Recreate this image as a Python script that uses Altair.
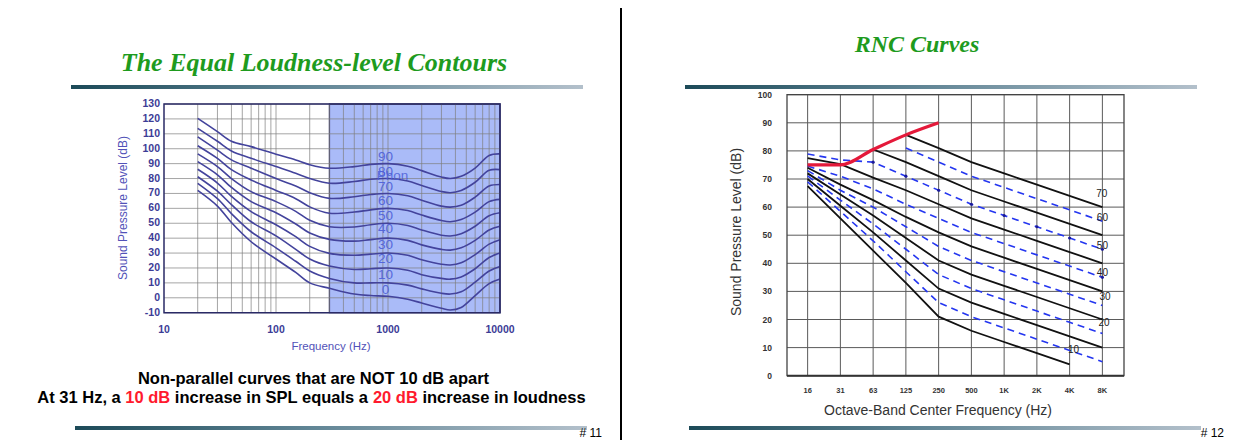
import altair as alt
import pandas as pd

# ================= LEFT SLIDE: equal loudness-level contours =================
FREQS = [20, 30, 40, 60, 100, 150, 200, 300, 500, 700, 1000, 1500, 2000, 3000, 3600, 4500, 6000, 8000, 10000]
PHON_90 = [120.4, 111.5, 105, 101.4, 96.3, 92.5, 89.3, 86.9, 88, 89.5, 90, 88.3, 85.3, 81, 80, 81.5, 87, 95.5, 96.5]
PHON_80 = [113.7, 105, 98.5, 93.6, 88, 83.5, 80, 76.8, 78, 79.5, 80, 78.3, 75.3, 71.3, 70.5, 72, 77.5, 85.5, 86]
PHON_70 = [108, 99, 92.5, 86.9, 80, 75, 70.5, 66.7, 67.8, 69.3, 70, 68.5, 65.5, 61.5, 60.8, 62, 67.5, 75, 76]
PHON_60 = [102, 93.5, 86, 79, 72, 66.5, 61, 56.7, 57.5, 59, 60, 58.5, 55.5, 51.8, 51, 52.5, 57.5, 64.5, 66]
PHON_50 = [96.5, 88, 80, 71.2, 64.5, 58, 52, 47.7, 47.5, 49, 50, 48.5, 45.5, 42, 41.5, 43, 48, 55, 57]
PHON_40 = [91.3, 82.5, 74, 64.5, 57, 49.5, 43.5, 39.2, 38, 39, 40, 38.5, 35.5, 32.5, 32, 33.5, 38.5, 45.5, 48]
PHON_30 = [86.2, 77, 68, 57.8, 49, 41, 34.5, 29.8, 28.5, 29.3, 30, 28.5, 25.5, 22.5, 22, 23.5, 29, 36, 39]
PHON_20 = [81.2, 71.5, 62.5, 51, 41.5, 32.5, 26, 21.3, 19, 19.5, 20, 18.5, 15.5, 13, 12.5, 14, 19.5, 27, 30]
PHON_10 = [76.8, 66.5, 56.5, 44.3, 33.5, 24.5, 18, 13, 10, 10, 10, 8.5, 6, 3, 2.5, 4, 10.5, 18, 21]
PHON_0 = [72, 61.5, 50.5, 37.6, 26, 17, 10, 6.4, 2.5, 1.5, 1, -1, -3.5, -7, -8.2, -6.5, 1.5, 9.5, 12.6]
PHON_LEVELS = [0, 10, 20, 30, 40, 50, 60, 70, 80, 90]
PHON_CURVES = [PHON_0, PHON_10, PHON_20, PHON_30, PHON_40, PHON_50, PHON_60, PHON_70, PHON_80, PHON_90]
PHON_LABEL_TEXT = ["0", "10", "20", "30", "40", "50", "60", "70", "80", "90"]
PHON_LABEL_Y = [5.5, 15.6, 25.9, 35.7, 46.0, 55.0, 65.1, 74.5, 84.6, 94.7]
PHON_LABEL_F = 950
PHON_WORD = "Phon"
PHON_WORD_F = 793
PHON_WORD_Y = 81.7
SHADE_FROM = 300
LEFT_GRID_F = [20, 30, 40, 50, 60, 70, 80, 90, 100, 200, 300, 400, 500, 600, 700, 800, 900,
               1000, 2000, 3000, 4000, 5000, 6000, 7000, 8000, 9000]
LEFT_Y_TICKS = [130, 120, 110, 100, 90, 80, 70, 60, 50, 40, 30, 20, 10, 0, -10]
LEFT_X_TICKS = [10, 100, 1000, 10000]
LEFT_TITLE = "The Equal Loudness-level Contours"
CAPTION_1 = "Non-parallel curves that are NOT 10 dB apart"
CAPTION_2 = ["At 31 Hz, a", "10 dB", "increase in SPL equals a", "20 dB", "increase in  loudness"]
CAPTION_2_RED = [False, True, False, True, False]

# ================= RIGHT SLIDE: RNC curves =================
OCTAVES = ["16", "31", "63", "125", "250", "500", "1K", "2K", "4K", "8K"]
RNC_10 = [67.5, 56, 44.5, 33, 21, 16, 12, 8, 4]
RNC_20 = [70, 60.5, 51, 41, 31, 26, 22, 18, 14, 10]
RNC_30 = [72, 64.5, 57, 49, 41, 36, 32, 28, 24, 20]
RNC_40 = [74, 68, 62.5, 56.5, 51, 46, 42, 38, 34, 30]
RNC_50 = [77.4, 75.3, 70.5, 66, 61, 56, 52, 48, 44, 40]
RNC_60 = [None, None, 80.5, 76, 71, 66, 62, 58, 54, 50]
RNC_70 = [None, None, None, 85.7, 81, 76, 72, 68, 64, 60]
RNC_15 = [69, 58.5, 48, 37, 26, 21, 17, 13, 9, 5]
RNC_25 = [71.1, 62.5, 54, 45, 36, 31, 27, 23, 19, 15]
RNC_35 = [73, 66, 60, 53, 46, 41, 37, 33, 29, 25]
RNC_45 = [74.6, 71, 66.5, 61, 56, 51, 47, 43, 39, 35]
RNC_55 = [78.9, 76.8, 76, 71, 66, 61, 57, 53, 49, 45]
RNC_65 = [None, None, None, 81, 76, 71, 67, 63, 59, 55]
RED_LIMIT = [75, 75, 80.5, 85.7, 90]
RNC_LABELS = ["70", "60", "50", "40", "30", "20", "10"]
RNC_LABEL_X = [8.98, 9.0, 9.0, 9.0, 9.08, 9.05, 8.12]
RNC_LABEL_Y = [64.7, 56.2, 46.3, 36.4, 28.1, 18.9, 9.1]
DOT_IDX = [2, 3, 4, 5, 6, 7, 8, 9, 9]
DOT_VAL = [76, 71, 66, 61, 57, 53, 49, 45, 35]
RIGHT_Y_TICKS = [0, 10, 20, 30, 40, 50, 60, 70, 80, 90, 100]
RIGHT_TITLE = "RNC Curves"

# ================= scales (pixel ranges inside a 1220 x 432 canvas) =================
LX = alt.Scale(type="log", domain=[10, 10000], range=[156, 492], nice=False)
LY = alt.Scale(domain=[-10, 130], range=[304.7, 96], nice=False, zero=False)
RX = alt.Scale(domain=[-0.63, 9.66], range=[779, 1116], nice=False, zero=False)
RY = alt.Scale(domain=[0, 100], range=[367.7, 86.7], nice=False, zero=False)

SANS = "Liberation Sans"
SERIF = "Liberation Serif"


def qx(field, sc):
    return alt.X(field, type="quantitative", scale=sc, axis=None)


def qy(field, sc):
    return alt.Y(field, type="quantitative", scale=sc, axis=None)


one = alt.Data(values=[{"a": 0}])
layers = []

# ---------- left chart ----------
shade = pd.DataFrame({"f0": [SHADE_FROM], "f1": [10000], "y0": [-10], "y1": [130]})
layers.append(alt.Chart(shade).mark_rect(fill="#aabbf8", stroke="#2a2a66", strokeWidth=1.3).encode(
    x=qx("f0", LX), x2="f1", y=qy("y0", LY), y2="y1"))

vgrid = pd.DataFrame({"f": LEFT_GRID_F, "y0": -10, "y1": 130})
layers.append(alt.Chart(vgrid).mark_rule(color="#7f7f7f", strokeWidth=1, opacity=0.7).encode(
    x=qx("f", LX), y=qy("y0", LY), y2="y1"))
hgrid = pd.DataFrame({"y": LEFT_Y_TICKS, "f0": 10, "f1": 10000})
layers.append(alt.Chart(hgrid).mark_rule(color="#7f7f7f", strokeWidth=1, opacity=0.7).encode(
    y=qy("y", LY), x=qx("f0", LX), x2="f1"))

curve_rows = []
for lvl, vals in zip(PHON_LEVELS, PHON_CURVES):
    for f, v in zip(FREQS, vals):
        curve_rows.append({"f": f, "spl": v, "phon": lvl})
curves = pd.DataFrame(curve_rows)
layers.append(alt.Chart(curves).mark_line(color="#43439c", strokeWidth=1.6, interpolate="catmull-rom").encode(
    x=qx("f", LX), y=qy("spl", LY), detail="phon:N"))

plabels = pd.DataFrame({"f": PHON_LABEL_F, "y": PHON_LABEL_Y, "t": PHON_LABEL_TEXT})
layers.append(alt.Chart(plabels).mark_text(font=SANS, fontSize=13.5, color="#4d5fd9", align="center",
                                           baseline="middle", opacity=0.9).encode(
    x=qx("f", LX), y=qy("y", LY), text="t:N"))
pword = pd.DataFrame({"f": [PHON_WORD_F], "y": [PHON_WORD_Y], "t": [PHON_WORD]})
layers.append(alt.Chart(pword).mark_text(font=SANS, fontSize=13.5, color="#4d5fd9", align="left",
                                         baseline="middle", opacity=0.85).encode(
    x=qx("f", LX), y=qy("y", LY), text="t:N"))

frame_l = pd.DataFrame({"f0": [10], "f1": [10000], "y0": [-10], "y1": [130]})
layers.append(alt.Chart(frame_l).mark_rect(fillOpacity=0, stroke="#2a2a66", strokeWidth=1.5).encode(
    x=qx("f0", LX), x2="f1", y=qy("y0", LY), y2="y1"))

lyt = pd.DataFrame({"y": LEFT_Y_TICKS, "t": [str(v) for v in LEFT_Y_TICKS]})
layers.append(alt.Chart(lyt).mark_text(font=SANS, fontSize=10.5, fontWeight="bold", color="#3c3c96",
                                       align="right", baseline="middle").encode(
    x=alt.value(152), y=qy("y", LY), text="t:N"))
lxt = pd.DataFrame({"f": LEFT_X_TICKS, "t": [str(v) for v in LEFT_X_TICKS]})
layers.append(alt.Chart(lxt).mark_text(font=SANS, fontSize=10.5, fontWeight="bold", color="#3c3c96",
                                       align="center", baseline="middle").encode(
    x=qx("f", LX), y=alt.value(322), text="t:N"))
layers.append(alt.Chart(one).mark_text(text="Frequency (Hz)", font=SANS, fontSize=11.5, color="#5252b8",
                                       align="center", baseline="middle").encode(
    x=alt.value(323), y=alt.value(339)))
layers.append(alt.Chart(one).mark_text(text="Sound Pressure Level (dB)", font=SANS, fontSize=12, color="#5252b8",
                                       align="center", baseline="middle", angle=270).encode(
    x=alt.value(115), y=alt.value(200)))

# ---------- right chart ----------
rv = pd.DataFrame({"i": list(range(len(OCTAVES))), "y0": 0, "y1": 100})
layers.append(alt.Chart(rv).mark_rule(color="#5a5a5a", strokeWidth=1).encode(
    x=qx("i", RX), y=qy("y0", RY), y2="y1"))
rh = pd.DataFrame({"y": RIGHT_Y_TICKS, "x0": -0.63, "x1": 9.66})
layers.append(alt.Chart(rh).mark_rule(color="#5a5a5a", strokeWidth=1).encode(
    y=qy("y", RY), x=qx("x0", RX), x2="x1"))
frame_r = pd.DataFrame({"x0": [-0.63], "x1": [9.66], "y0": [0], "y1": [100]})
layers.append(alt.Chart(frame_r).mark_rect(fillOpacity=0, stroke="#444444", strokeWidth=1.3).encode(
    x=qx("x0", RX), x2="x1", y=qy("y0", RY), y2="y1"))
base_r = pd.DataFrame({"x0": [-0.63], "x1": [9.66], "y": [0]})
layers.append(alt.Chart(base_r).mark_rule(color="#333333", strokeWidth=2).encode(
    x=qx("x0", RX), x2="x1", y=qy("y", RY)))


def long_df(named):
    rows = []
    for name, vals in named:
        for i, v in enumerate(vals):
            if v is not None:
                rows.append({"i": i, "v": v, "c": name})
    return pd.DataFrame(rows)


dashed = long_df([("15", RNC_15), ("25", RNC_25), ("35", RNC_35), ("45", RNC_45), ("55", RNC_55), ("65", RNC_65)])
layers.append(alt.Chart(dashed).mark_line(color="#2436f0", strokeWidth=1.6, strokeDash=[7, 5]).encode(
    x=qx("i", RX), y=qy("v", RY), detail="c:N"))
solid = long_df([("10", RNC_10), ("20", RNC_20), ("30", RNC_30), ("40", RNC_40), ("50", RNC_50),
                 ("60", RNC_60), ("70", RNC_70)])
layers.append(alt.Chart(solid).mark_line(color="#111111", strokeWidth=1.8).encode(
    x=qx("i", RX), y=qy("v", RY), detail="c:N"))
red = long_df([("red", RED_LIMIT)])
layers.append(alt.Chart(red).mark_line(color="#e4193a", strokeWidth=3.2, interpolate="monotone").encode(
    x=qx("i", RX), y=qy("v", RY)))
dots = pd.DataFrame({"i": DOT_IDX, "v": DOT_VAL})
layers.append(alt.Chart(dots).mark_point(filled=True, size=10, color="#1a1a9a", opacity=1).encode(
    x=qx("i", RX), y=qy("v", RY)))
rl = pd.DataFrame({"i": RNC_LABEL_X, "v": RNC_LABEL_Y, "t": RNC_LABELS})
layers.append(alt.Chart(rl).mark_text(font=SANS, fontSize=10, color="#222222", align="center",
                                      baseline="middle").encode(
    x=qx("i", RX), y=qy("v", RY), text="t:N"))

ryt = pd.DataFrame({"y": RIGHT_Y_TICKS, "t": [str(v) for v in RIGHT_Y_TICKS]})
layers.append(alt.Chart(ryt).mark_text(font=SANS, fontSize=8.5, fontWeight="bold", color="#333333",
                                       align="right", baseline="middle").encode(
    x=alt.value(764), y=qy("y", RY), text="t:N"))
rxt = pd.DataFrame({"i": list(range(len(OCTAVES))), "t": OCTAVES})
layers.append(alt.Chart(rxt).mark_text(font=SANS, fontSize=7.5, fontWeight="bold", color="#333333",
                                       align="center", baseline="middle").encode(
    x=qx("i", RX), y=alt.value(383), text="t:N"))
layers.append(alt.Chart(one).mark_text(text="Octave-Band Center Frequency (Hz)", font=SANS, fontSize=14,
                                       color="#333333", align="center", baseline="middle").encode(
    x=alt.value(930), y=alt.value(403)))
layers.append(alt.Chart(one).mark_text(text="Sound Pressure Level (dB)", font=SANS, fontSize=14,
                                       color="#333333", align="center", baseline="middle", angle=270).encode(
    x=alt.value(729), y=alt.value(224)))

# ---------- slide decorations ----------
bar_grad = alt.Gradient(gradient="linear", x1=0, x2=1, y1=0, y2=0,
                        stops=[alt.GradientStop(color="#1c4a58", offset=0),
                               alt.GradientStop(color="#5f8494", offset=0.45),
                               alt.GradientStop(color="#b3c0cb", offset=1)])
for (x0, x1, y0, y1) in [(63, 575, 77, 81), (677, 1189, 77, 81), (67, 579, 418, 422), (681, 1193, 418, 422)]:
    layers.append(alt.Chart(one).mark_rect(color=bar_grad).encode(
        x=alt.value(x0), x2=alt.value(x1), y=alt.value(y0), y2=alt.value(y1)))

layers.append(alt.Chart(one).mark_rule(color="#000000", strokeWidth=2).encode(
    x=alt.value(613), y=alt.value(0), y2=alt.value(432)))

layers.append(alt.Chart(one).mark_text(text=LEFT_TITLE, font=SERIF, fontSize=26, fontStyle="italic",
                                       fontWeight="bold", color="#1e9b1e", align="center",
                                       baseline="middle").encode(x=alt.value(306), y=alt.value(55)))
layers.append(alt.Chart(one).mark_text(text=RIGHT_TITLE, font=SERIF, fontSize=24, fontStyle="italic",
                                       fontWeight="bold", color="#1e9b1e", align="center",
                                       baseline="middle").encode(x=alt.value(909), y=alt.value(37)))

layers.append(alt.Chart(one).mark_text(text=CAPTION_1, font=SANS, fontSize=16.5, fontWeight="bold",
                                       color="#000000", align="center", baseline="middle").encode(
    x=alt.value(305.5), y=alt.value(371)))
seg_x = [29.3, 117.3, 166.8, 364.9, 414.4]
for txt, is_red, sx in zip(CAPTION_2, CAPTION_2_RED, seg_x):
    layers.append(alt.Chart(one).mark_text(text=txt, font=SANS, fontSize=16.5, fontWeight="bold",
                                           color="#ff1a2e" if is_red else "#000000", align="left",
                                           baseline="middle").encode(x=alt.value(sx), y=alt.value(389.5)))

layers.append(alt.Chart(one).mark_text(text="# 11", font=SANS, fontSize=12, color="#000000", align="right",
                                       baseline="bottom").encode(x=alt.value(594), y=alt.value(432)))
layers.append(alt.Chart(one).mark_text(text="# 12", font=SANS, fontSize=12, color="#000000", align="right",
                                       baseline="bottom").encode(x=alt.value(1216), y=alt.value(432)))

chart = alt.layer(*layers).resolve_scale(x="independent", y="independent").properties(
    width=1220, height=432, padding=0, background="#ffffff",
    autosize=alt.AutoSizeParams(type="none"),
).configure_view(strokeWidth=0)

chart.save("out.html", embed_options={"renderer": "svg", "actions": False})
